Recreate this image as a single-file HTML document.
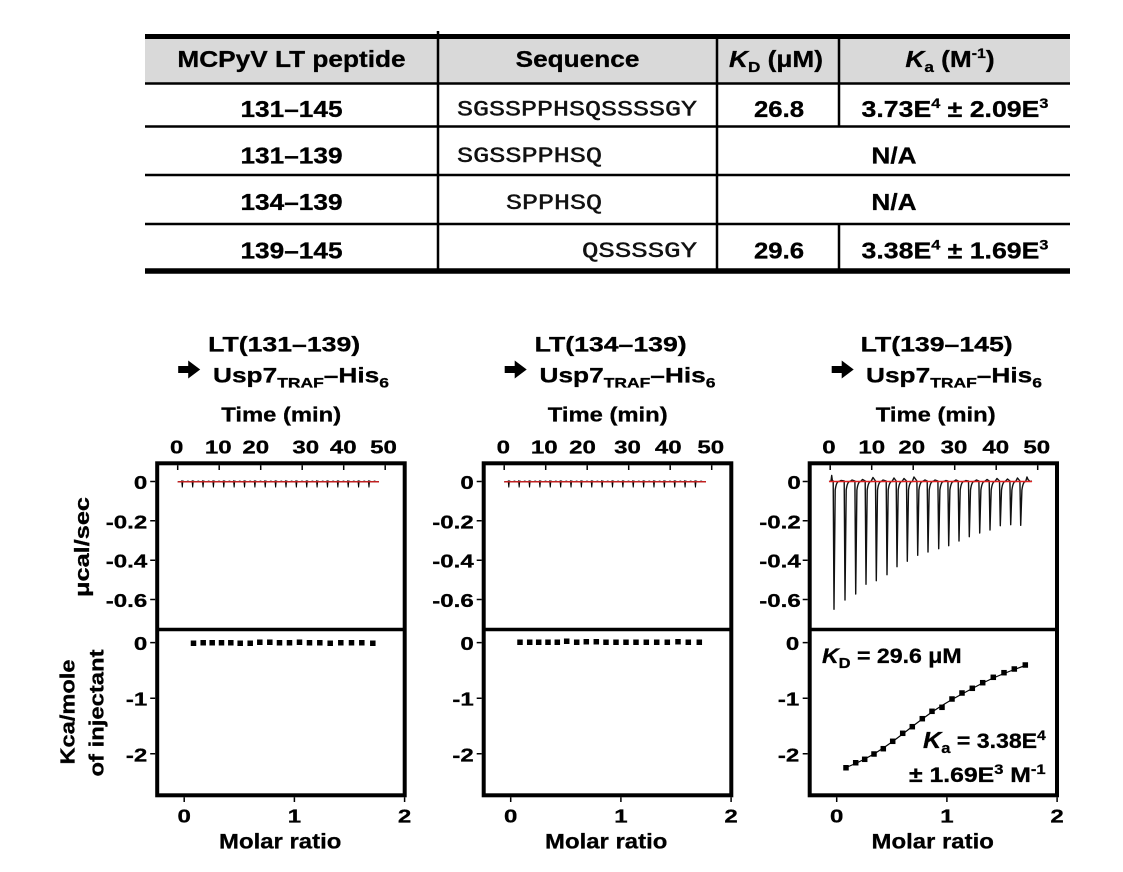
<!DOCTYPE html>
<html><head><meta charset="utf-8"><style>
html,body{margin:0;padding:0;background:#fff}
svg{display:block}
text{font-family:"Liberation Sans",Arial,sans-serif;font-weight:bold;fill:#000;stroke:#000;stroke-width:0.3px}
.m{font-family:"Liberation Mono","Courier New",monospace;font-weight:normal;font-size:22px;stroke-width:0.45px;fill:#111;stroke:#111}
.tb{font-size:23px}
.t{font-size:18.5px}
.ax{font-size:20px}
.ti{font-size:21px}
</style></head><body>
<svg width="1123" height="872" viewBox="0 0 1123 872" xmlns="http://www.w3.org/2000/svg">
<!-- TABLE -->
<rect x="145" y="38" width="925" height="45" fill="#d9d9d9"/>
<g stroke="#000">
<line x1="145" y1="36.5" x2="1070" y2="36.5" stroke-width="5"/>
<line x1="145" y1="83.5" x2="1070" y2="83.5" stroke-width="2.5"/>
<line x1="145" y1="126.5" x2="1070" y2="126.5" stroke-width="2.5"/>
<line x1="145" y1="175" x2="1070" y2="175" stroke-width="2.5"/>
<line x1="145" y1="224" x2="1070" y2="224" stroke-width="2.5"/>
<line x1="145" y1="271" x2="1070" y2="271" stroke-width="5.5"/>
<line x1="438" y1="31" x2="438" y2="273" stroke-width="2.5"/>
<line x1="717" y1="34" x2="717" y2="273" stroke-width="2.5"/>
<line x1="839" y1="34" x2="839" y2="126.5" stroke-width="2.5"/>
<line x1="839" y1="224" x2="839" y2="271" stroke-width="2.5"/>
</g>
<text class="tb" text-anchor="middle" transform="translate(291.5,67) scale(1.14,1)">MCPyV LT peptide</text>
<text class="tb" text-anchor="middle" transform="translate(577.5,67) scale(1.14,1)">Sequence</text>
<text class="tb" text-anchor="middle" transform="translate(776,67) scale(1.14,1)"><tspan font-style="italic">K</tspan><tspan font-size="15" dy="5">D</tspan><tspan dy="-5"> (μM)</tspan></text>
<text class="tb" text-anchor="middle" transform="translate(950,67) scale(1.14,1)"><tspan font-style="italic">K</tspan><tspan font-size="15" dy="5">a</tspan><tspan dy="-5"> (M</tspan><tspan font-size="14" dy="-9">-1</tspan><tspan dy="9">)</tspan></text>

<text class="tb" text-anchor="middle" transform="translate(291.5,117) scale(1.14,1)">131–145</text>
<text class="tb" text-anchor="middle" transform="translate(291.5,163.3) scale(1.14,1)">131–139</text>
<text class="tb" text-anchor="middle" transform="translate(291.5,210) scale(1.14,1)">134–139</text>
<text class="tb" text-anchor="middle" transform="translate(291.5,258.3) scale(1.14,1)">139–145</text>

<text class="m" x="457" y="115.5" textLength="240" lengthAdjust="spacingAndGlyphs">SGSSPPHSQSSSSGY</text>
<text class="m" x="457" y="162" textLength="145" lengthAdjust="spacingAndGlyphs">SGSSPPHSQ</text>
<text class="m" x="506" y="209" textLength="96" lengthAdjust="spacingAndGlyphs">SPPHSQ</text>
<text class="m" x="582" y="257" textLength="115" lengthAdjust="spacingAndGlyphs">QSSSSGY</text>

<text class="tb" text-anchor="middle" transform="translate(779,117) scale(1.12,1)">26.8</text>
<text class="tb" text-anchor="middle" transform="translate(779,258.3) scale(1.12,1)">29.6</text>
<text class="tb" text-anchor="middle" transform="translate(955,117) scale(1.16,1)">3.73E<tspan font-size="14" dy="-9">4</tspan><tspan dy="9"> ± 2.09E</tspan><tspan font-size="14" dy="-9">3</tspan></text>
<text class="tb" text-anchor="middle" transform="translate(955,258.3) scale(1.16,1)">3.38E<tspan font-size="14" dy="-9">4</tspan><tspan dy="9"> ± 1.69E</tspan><tspan font-size="14" dy="-9">3</tspan></text>
<text class="tb" text-anchor="middle" transform="translate(894,163.3) scale(1.14,1)">N/A</text>
<text class="tb" text-anchor="middle" transform="translate(894,210) scale(1.14,1)">N/A</text>

<!-- Y AXIS TITLES -->
<text class="ax" text-anchor="middle" transform="translate(89,547) rotate(-90)" textLength="100" lengthAdjust="spacingAndGlyphs">μcal/sec</text>
<text class="ax" text-anchor="middle" transform="translate(74.5,712) rotate(-90)" textLength="105" lengthAdjust="spacingAndGlyphs">Kca/mole</text>
<text class="ax" text-anchor="middle" transform="translate(103.5,713) rotate(-90)" textLength="127" lengthAdjust="spacingAndGlyphs">of injectant</text>

<!-- PANEL 1 (L=157.2) -->
<g>
<text class="ti" text-anchor="middle" x="284.2" y="351.7" textLength="152" lengthAdjust="spacingAndGlyphs">LT(131–139)</text>
<polygon points="178.2,366 188.2,366 188.2,360.5 200.2,369.5 188.2,378.5 188.2,373 178.2,373" fill="#000"/>
<text class="ti" transform="translate(213,382.7) scale(1.25,1)">Usp7<tspan font-size="14" dy="4.6">TRAF</tspan><tspan dy="-4.6">–His</tspan><tspan font-size="14" dy="4.6">6</tspan></text>
<text class="ax" text-anchor="middle" transform="translate(281.2,421.7) scale(1.19,1)">Time (min)</text>
<g class="t">
<text class="t" text-anchor="middle" transform="translate(176.7,453.5) scale(1.3,1)">0</text>
<text class="t" text-anchor="middle" transform="translate(218.3,453.5) scale(1.3,1)">10</text>
<text class="t" text-anchor="middle" transform="translate(255.8,453.5) scale(1.3,1)">20</text>
<text class="t" text-anchor="middle" transform="translate(305.8,453.5) scale(1.3,1)">30</text>
<text class="t" text-anchor="middle" transform="translate(343.3,453.5) scale(1.3,1)">40</text>
<text class="t" text-anchor="middle" transform="translate(383.5,453.5) scale(1.3,1)">50</text>
<text class="t" text-anchor="end" transform="translate(147.2,489) scale(1.3,1)">0</text>
<text class="t" text-anchor="end" transform="translate(147.2,528.3) scale(1.3,1)">-0.2</text>
<text class="t" text-anchor="end" transform="translate(147.2,567.7) scale(1.3,1)">-0.4</text>
<text class="t" text-anchor="end" transform="translate(147.2,607) scale(1.3,1)">-0.6</text>
<text class="t" text-anchor="end" transform="translate(147.2,650.1) scale(1.3,1)">0</text>
<text class="t" text-anchor="end" transform="translate(147.2,705.7) scale(1.3,1)">-1</text>
<text class="t" text-anchor="end" transform="translate(147.2,761.3) scale(1.3,1)">-2</text>
<text class="t" text-anchor="middle" transform="translate(184.2,822.7) scale(1.3,1)">0</text>
<text class="t" text-anchor="middle" transform="translate(294.4,822.7) scale(1.3,1)">1</text>
<text class="t" text-anchor="middle" transform="translate(404.6,822.7) scale(1.3,1)">2</text>
</g>
<text class="ti" text-anchor="middle" transform="translate(280.2,848.3) scale(1.14,1)">Molar ratio</text>
<g stroke="#000" stroke-width="1.5">
<path d="M177.7,465.3V470M219.2,465.3V470M260.7,465.3V470M302.2,465.3V470M343.7,465.3V470M385.2,465.3V470"/>
<path d="M150.2,481.5H155.2M150.2,520.8H155.2M150.2,560.2H155.2M150.2,599.5H155.2M150.2,642.6H155.2M150.2,698.2H155.2M150.2,753.8H155.2"/>
<path d="M184.2,797.3V802M294.4,797.3V802M404.6,797.3V802"/>
</g>
<path fill="none" stroke="#000" stroke-width="1" d="M177.7,482 h3 l1,-1 l0.6,6.5 l0.6,-6.5 l2.5,1 l2.5,-1 l2.5,0.8 l0.67,0.2 l1,-1 l0.6,6.5 l0.6,-6.5 l2.5,1 l2.5,-1 l2.5,0.8 l0.67,0.2 l1,-1 l0.6,6.5 l0.6,-6.5 l2.5,1 l2.5,-1 l2.5,0.8 l0.67,0.2 l1,-1 l0.6,6.5 l0.6,-6.5 l2.5,1 l2.5,-1 l2.5,0.8 l0.67,0.2 l1,-1 l0.6,6.5 l0.6,-6.5 l2.5,1 l2.5,-1 l2.5,0.8 l0.67,0.2 l1,-1 l0.6,6.5 l0.6,-6.5 l2.5,1 l2.5,-1 l2.5,0.8 l0.67,0.2 l1,-1 l0.6,6.5 l0.6,-6.5 l2.5,1 l2.5,-1 l2.5,0.8 l0.67,0.2 l1,-1 l0.6,6.5 l0.6,-6.5 l2.5,1 l2.5,-1 l2.5,0.8 l0.67,0.2 l1,-1 l0.6,6.5 l0.6,-6.5 l2.5,1 l2.5,-1 l2.5,0.8 l0.67,0.2 l1,-1 l0.6,6.5 l0.6,-6.5 l2.5,1 l2.5,-1 l2.5,0.8 l0.67,0.2 l1,-1 l0.6,6.5 l0.6,-6.5 l2.5,1 l2.5,-1 l2.5,0.8 l0.67,0.2 l1,-1 l0.6,6.5 l0.6,-6.5 l2.5,1 l2.5,-1 l2.5,0.8 l0.67,0.2 l1,-1 l0.6,6.5 l0.6,-6.5 l2.5,1 l2.5,-1 l2.5,0.8 l0.67,0.2 l1,-1 l0.6,6.5 l0.6,-6.5 l2.5,1 l2.5,-1 l2.5,0.8 l0.67,0.2 l1,-1 l0.6,6.5 l0.6,-6.5 l2.5,1 l2.5,-1 l2.5,0.8 l0.67,0.2 l1,-1 l0.6,6.5 l0.6,-6.5 l2.5,1 l2.5,-1 l2.5,0.8 l0.67,0.2 l1,-1 l0.6,6.5 l0.6,-6.5 l2.5,1 l2.5,-1 l2.5,0.8 l0.67,0.2 l1,-1 l0.6,6.5 l0.6,-6.5 l2.5,1 l2.5,-1 l2.5,0.8 l0.67,0.2 l1,-1 l0.6,6.5 l0.6,-6.5 l2.5,1 l2.5,-1 l2.5,0.8 l0.67,0.2 h1"/>
<path d="M177.7,481.8H379" stroke="#c02020" stroke-width="1.5"/>
<g fill="#000">
<rect x="190.75" y="640.5" width="5.5" height="5.5"/><rect x="200.45" y="640" width="5.5" height="5.5"/><rect x="209.45" y="640" width="5.5" height="5.5"/><rect x="218.75" y="640" width="5.5" height="5.5"/><rect x="228.05" y="640" width="5.5" height="5.5"/><rect x="237.45" y="640.5" width="5.5" height="5.5"/><rect x="247.45" y="640.5" width="5.5" height="5.5"/><rect x="257.05" y="639.5" width="5.5" height="5.5"/><rect x="267.05" y="639.5" width="5.5" height="5.5"/><rect x="276.75" y="640" width="5.5" height="5.5"/><rect x="286.75" y="640" width="5.5" height="5.5"/><rect x="296.75" y="639.5" width="5.5" height="5.5"/><rect x="306.75" y="640" width="5.5" height="5.5"/><rect x="317.05" y="640" width="5.5" height="5.5"/><rect x="327.45" y="640.5" width="5.5" height="5.5"/><rect x="338.05" y="640" width="5.5" height="5.5"/><rect x="348.75" y="640" width="5.5" height="5.5"/><rect x="359.05" y="640" width="5.5" height="5.5"/><rect x="370.05" y="640.5" width="5.5" height="5.5"/>
</g>
<rect x="157.2" y="463.3" width="247.5" height="332" fill="none" stroke="#000" stroke-width="4"/>
<line x1="157.2" y1="629.5" x2="404.7" y2="629.5" stroke="#000" stroke-width="3.5"/>
</g>

<!-- PANEL 2 (L=483.7) -->
<g>
<text class="ti" text-anchor="middle" x="610.7" y="351.7" textLength="152" lengthAdjust="spacingAndGlyphs">LT(134–139)</text>
<polygon points="504.7,366 514.7,366 514.7,360.5 526.7,369.5 514.7,378.5 514.7,373 504.7,373" fill="#000"/>
<text class="ti" transform="translate(539.5,382.7) scale(1.25,1)">Usp7<tspan font-size="14" dy="4.6">TRAF</tspan><tspan dy="-4.6">–His</tspan><tspan font-size="14" dy="4.6">6</tspan></text>
<text class="ax" text-anchor="middle" transform="translate(607.7,421.7) scale(1.19,1)">Time (min)</text>
<g>
<text class="t" text-anchor="middle" transform="translate(503.3,453.5) scale(1.3,1)">0</text>
<text class="t" text-anchor="middle" transform="translate(544.2,453.5) scale(1.3,1)">10</text>
<text class="t" text-anchor="middle" transform="translate(582.5,453.5) scale(1.3,1)">20</text>
<text class="t" text-anchor="middle" transform="translate(627.5,453.5) scale(1.3,1)">30</text>
<text class="t" text-anchor="middle" transform="translate(668.3,453.5) scale(1.3,1)">40</text>
<text class="t" text-anchor="middle" transform="translate(710.8,453.5) scale(1.3,1)">50</text>
<text class="t" text-anchor="end" transform="translate(473.7,489) scale(1.3,1)">0</text>
<text class="t" text-anchor="end" transform="translate(473.7,528.3) scale(1.3,1)">-0.2</text>
<text class="t" text-anchor="end" transform="translate(473.7,567.7) scale(1.3,1)">-0.4</text>
<text class="t" text-anchor="end" transform="translate(473.7,607) scale(1.3,1)">-0.6</text>
<text class="t" text-anchor="end" transform="translate(473.7,650.1) scale(1.3,1)">0</text>
<text class="t" text-anchor="end" transform="translate(473.7,705.7) scale(1.3,1)">-1</text>
<text class="t" text-anchor="end" transform="translate(473.7,761.3) scale(1.3,1)">-2</text>
<text class="t" text-anchor="middle" transform="translate(510.7,822.7) scale(1.3,1)">0</text>
<text class="t" text-anchor="middle" transform="translate(620.9,822.7) scale(1.3,1)">1</text>
<text class="t" text-anchor="middle" transform="translate(731.1,822.7) scale(1.3,1)">2</text>
</g>
<text class="ti" text-anchor="middle" transform="translate(606.2,848.3) scale(1.14,1)">Molar ratio</text>
<g stroke="#000" stroke-width="1.5">
<path d="M504.2,465.3V470M545.7,465.3V470M587.2,465.3V470M628.7,465.3V470M670.2,465.3V470M711.7,465.3V470"/>
<path d="M476.7,481.5H481.7M476.7,520.8H481.7M476.7,560.2H481.7M476.7,599.5H481.7M476.7,642.6H481.7M476.7,698.2H481.7M476.7,753.8H481.7"/>
<path d="M510.7,797.3V802M620.9,797.3V802M731.1,797.3V802"/>
</g>
<path fill="none" stroke="#000" stroke-width="1" d="M504.2,482 h3 l1,-1 l0.6,6.5 l0.6,-6.5 l2.5,1 l2.5,-1 l2.5,0.8 l0.67,0.2 l1,-1 l0.6,6.5 l0.6,-6.5 l2.5,1 l2.5,-1 l2.5,0.8 l0.67,0.2 l1,-1 l0.6,6.5 l0.6,-6.5 l2.5,1 l2.5,-1 l2.5,0.8 l0.67,0.2 l1,-1 l0.6,6.5 l0.6,-6.5 l2.5,1 l2.5,-1 l2.5,0.8 l0.67,0.2 l1,-1 l0.6,6.5 l0.6,-6.5 l2.5,1 l2.5,-1 l2.5,0.8 l0.67,0.2 l1,-1 l0.6,6.5 l0.6,-6.5 l2.5,1 l2.5,-1 l2.5,0.8 l0.67,0.2 l1,-1 l0.6,6.5 l0.6,-6.5 l2.5,1 l2.5,-1 l2.5,0.8 l0.67,0.2 l1,-1 l0.6,6.5 l0.6,-6.5 l2.5,1 l2.5,-1 l2.5,0.8 l0.67,0.2 l1,-1 l0.6,6.5 l0.6,-6.5 l2.5,1 l2.5,-1 l2.5,0.8 l0.67,0.2 l1,-1 l0.6,6.5 l0.6,-6.5 l2.5,1 l2.5,-1 l2.5,0.8 l0.67,0.2 l1,-1 l0.6,6.5 l0.6,-6.5 l2.5,1 l2.5,-1 l2.5,0.8 l0.67,0.2 l1,-1 l0.6,6.5 l0.6,-6.5 l2.5,1 l2.5,-1 l2.5,0.8 l0.67,0.2 l1,-1 l0.6,6.5 l0.6,-6.5 l2.5,1 l2.5,-1 l2.5,0.8 l0.67,0.2 l1,-1 l0.6,6.5 l0.6,-6.5 l2.5,1 l2.5,-1 l2.5,0.8 l0.67,0.2 l1,-1 l0.6,6.5 l0.6,-6.5 l2.5,1 l2.5,-1 l2.5,0.8 l0.67,0.2 l1,-1 l0.6,6.5 l0.6,-6.5 l2.5,1 l2.5,-1 l2.5,0.8 l0.67,0.2 l1,-1 l0.6,6.5 l0.6,-6.5 l2.5,1 l2.5,-1 l2.5,0.8 l0.67,0.2 l1,-1 l0.6,6.5 l0.6,-6.5 l2.5,1 l2.5,-1 l2.5,0.8 l0.67,0.2 l1,-1 l0.6,6.5 l0.6,-6.5 l2.5,1 l2.5,-1 l2.5,0.8 l0.67,0.2 h1"/>
<path d="M504.2,481.8H706" stroke="#c02020" stroke-width="1.5"/>
<g fill="#000">
<rect x="517.25" y="639.5" width="5.5" height="5.5"/><rect x="526.95" y="639.5" width="5.5" height="5.5"/><rect x="535.95" y="639.5" width="5.5" height="5.5"/><rect x="545.25" y="639.5" width="5.5" height="5.5"/><rect x="554.55" y="639.5" width="5.5" height="5.5"/><rect x="563.95" y="638.5" width="5.5" height="5.5"/><rect x="573.95" y="639.5" width="5.5" height="5.5"/><rect x="583.55" y="639" width="5.5" height="5.5"/><rect x="593.55" y="639" width="5.5" height="5.5"/><rect x="603.25" y="639.5" width="5.5" height="5.5"/><rect x="613.25" y="639.5" width="5.5" height="5.5"/><rect x="623.25" y="639.5" width="5.5" height="5.5"/><rect x="633.25" y="639.5" width="5.5" height="5.5"/><rect x="643.55" y="639.5" width="5.5" height="5.5"/><rect x="653.95" y="639.5" width="5.5" height="5.5"/><rect x="664.55" y="639.5" width="5.5" height="5.5"/><rect x="675.25" y="639" width="5.5" height="5.5"/><rect x="685.55" y="639.5" width="5.5" height="5.5"/><rect x="696.55" y="639.5" width="5.5" height="5.5"/>
</g>
<rect x="483.7" y="463.3" width="247.6" height="332" fill="none" stroke="#000" stroke-width="4"/>
<line x1="483.7" y1="629.5" x2="731.3" y2="629.5" stroke="#000" stroke-width="3.5"/>
</g>

<!-- PANEL 3 (L=809.7) -->
<g>
<text class="ti" text-anchor="middle" x="936.7" y="351.7" textLength="152" lengthAdjust="spacingAndGlyphs">LT(139–145)</text>
<polygon points="831.7,366 841.7,366 841.7,360.5 853.7,369.5 841.7,378.5 841.7,373 831.7,373" fill="#000"/>
<text class="ti" transform="translate(866,382.7) scale(1.25,1)">Usp7<tspan font-size="14" dy="4.6">TRAF</tspan><tspan dy="-4.6">–His</tspan><tspan font-size="14" dy="4.6">6</tspan></text>
<text class="ax" text-anchor="middle" transform="translate(935.7,421.7) scale(1.19,1)">Time (min)</text>
<g>
<text class="t" text-anchor="middle" transform="translate(829,453.5) scale(1.3,1)">0</text>
<text class="t" text-anchor="middle" transform="translate(871.7,453.5) scale(1.3,1)">10</text>
<text class="t" text-anchor="middle" transform="translate(911.7,453.5) scale(1.3,1)">20</text>
<text class="t" text-anchor="middle" transform="translate(954,453.5) scale(1.3,1)">30</text>
<text class="t" text-anchor="middle" transform="translate(995.7,453.5) scale(1.3,1)">40</text>
<text class="t" text-anchor="middle" transform="translate(1036.7,453.5) scale(1.3,1)">50</text>
<text class="t" text-anchor="end" transform="translate(800.7,489) scale(1.3,1)">0</text>
<text class="t" text-anchor="end" transform="translate(800.7,528.3) scale(1.3,1)">-0.2</text>
<text class="t" text-anchor="end" transform="translate(800.7,567.7) scale(1.3,1)">-0.4</text>
<text class="t" text-anchor="end" transform="translate(800.7,607) scale(1.3,1)">-0.6</text>
<text class="t" text-anchor="end" transform="translate(799.2,650.1) scale(1.3,1)">0</text>
<text class="t" text-anchor="end" transform="translate(799.2,705.7) scale(1.3,1)">-1</text>
<text class="t" text-anchor="end" transform="translate(799.2,761.3) scale(1.3,1)">-2</text>
<text class="t" text-anchor="middle" transform="translate(836.7,822.7) scale(1.3,1)">0</text>
<text class="t" text-anchor="middle" transform="translate(946.9,822.7) scale(1.3,1)">1</text>
<text class="t" text-anchor="middle" transform="translate(1057.1,822.7) scale(1.3,1)">2</text>
</g>
<text class="ti" text-anchor="middle" transform="translate(932.7,848.3) scale(1.14,1)">Molar ratio</text>
<g stroke="#000" stroke-width="1.5">
<path d="M830.2,465.3V470M871.7,465.3V470M913.2,465.3V470M954.7,465.3V470M996.2,465.3V470M1037.7,465.3V470"/>
<path d="M802.7,481.5H807.7M802.7,520.8H807.7M802.7,560.2H807.7M802.7,599.5H807.7M802.7,642.6H807.7M802.7,698.2H807.7M802.7,753.8H807.7"/>
<path d="M836.7,797.3V802M946.9,797.3V802M1057.1,797.3V802"/>
</g>
<path fill="none" stroke="#111" stroke-width="1.4" stroke-linejoin="round" d="M829,481.5 L831,481 L831.7,475.5 L832.4,481 L833.2,481 L834,609.3 L835.2,490 Q836.5,481 839,481.5 L841,480.5 L844.2,481 L845,600 L846.2,490 Q847.5,481 850,481.5 L852,480 L854.9,481 L855.7,594 L856.9,490 Q858.2,481 860.7,481.5 L862.5,479.5 L865.2,481 L866,584.3 L867.2,490 Q868.5,481 871,481.5 L873,477.5 L875.5,481 L876.3,580.7 L877.5,490 Q878.8,481 881.3,481.5 L883,480 L886.2,481 L887,574.7 L888.2,490 Q889.5,481 892,481.5 L894,478 L896.2,481 L897,566.7 L898.2,490 Q899.5,481 902,481.5 L904,478.5 L906.5,481 L907.3,561.3 L908.5,490 Q909.8,481 912.3,481.5 L914,477 L916.9,481 L917.7,555.3 L918.9,490 Q920.2,481 922.7,481.5 L925,480 L927.2,481 L928,552 L929.2,490 Q930.5,481 933,481.5 L935,480 L937.9,481 L938.7,548.7 L939.9,490 Q941.2,481 943.7,481.5 L946,480.5 L947.9,481 L948.7,545.7 L949.9,490 Q951.2,481 953.7,481.5 L956,480 L958.2,481 L959,541 L960.2,490 Q961.5,481 964,481.5 L966,480.5 L968.5,481 L969.3,536.7 L970.5,490 Q971.8,481 974.3,481.5 L976.5,480 L978.9,481 L979.7,533 L980.9,490 Q982.2,481 984.7,481.5 L987,479.5 L989.2,481 L990,530 L991.2,490 Q992.5,481 995,481.5 L997,478.5 L999.5,481 L1000.3,525.7 L1001.5,490 Q1002.8,481 1005.3,481.5 L1007.5,479 L1009.9,481 L1010.7,524.7 L1011.9,490 Q1013.2,481 1015.7,481.5 L1017.5,478 L1019.9,481 L1020.7,525.3 L1021.9,490 Q1023.2,481 1025.7,481.5 L1027,477 L1028,479.5 L1030,481.5 L1032,481"/>
<path d="M829,481.5H1032" stroke="#e02020" stroke-width="1.5"/>
<polyline fill="none" stroke="#000" stroke-width="1.2" points="846,767.5 855.7,763.5 864.7,759 874,754 883.3,748 892.7,741.5 902.7,734 912.3,726.5 922.3,719 932,712 942,705.5 952,699.5 962,694 972.3,688.5 982.7,683 993.3,678 1004,673.5 1014.3,669.5 1025.3,665.5"/>
<g fill="#000">
<rect x="843.25" y="765" width="5.5" height="5.5"/><rect x="852.95" y="760" width="5.5" height="5.5"/><rect x="861.95" y="756.55" width="5.5" height="5.5"/><rect x="871.25" y="751.25" width="5.5" height="5.5"/><rect x="880.55" y="745.95" width="5.5" height="5.5"/><rect x="889.95" y="738.55" width="5.5" height="5.5"/><rect x="899.95" y="730.55" width="5.5" height="5.5"/><rect x="909.55" y="723.95" width="5.5" height="5.5"/><rect x="919.55" y="715.95" width="5.5" height="5.5"/><rect x="929.25" y="708.55" width="5.5" height="5.5"/><rect x="939.25" y="704.55" width="5.5" height="5.5"/><rect x="949.25" y="696.25" width="5.5" height="5.5"/><rect x="959.25" y="690.25" width="5.5" height="5.5"/><rect x="969.55" y="685.55" width="5.5" height="5.5"/><rect x="979.95" y="679.95" width="5.5" height="5.5"/><rect x="990.55" y="674.55" width="5.5" height="5.5"/><rect x="1001.25" y="669.95" width="5.5" height="5.5"/><rect x="1011.55" y="666.25" width="5.5" height="5.5"/><rect x="1022.55" y="662.25" width="5.5" height="5.5"/>
</g>
<text class="ti" transform="translate(822,663) scale(1.1,1)"><tspan font-style="italic">K</tspan><tspan font-size="15" dy="5">D</tspan><tspan dy="-5"> = 29.6 μM</tspan></text>
<text class="ti" transform="translate(923,748) scale(1.1,1)"><tspan font-style="italic" font-size="23">K</tspan><tspan font-size="15" dy="5">a</tspan><tspan dy="-5"> = 3.38E</tspan><tspan font-size="14" dy="-8">4</tspan></text>
<text class="ti" transform="translate(909,782) scale(1.18,1)">± 1.69E<tspan font-size="14" dy="-8">3</tspan><tspan dy="8"> M</tspan><tspan font-size="14" dy="-8">-1</tspan></text>
<rect x="809.7" y="463.3" width="247.3" height="332" fill="none" stroke="#000" stroke-width="4"/>
<line x1="809.7" y1="629.5" x2="1057" y2="629.5" stroke="#000" stroke-width="3.5"/>
</g>
</svg>
</body></html>
